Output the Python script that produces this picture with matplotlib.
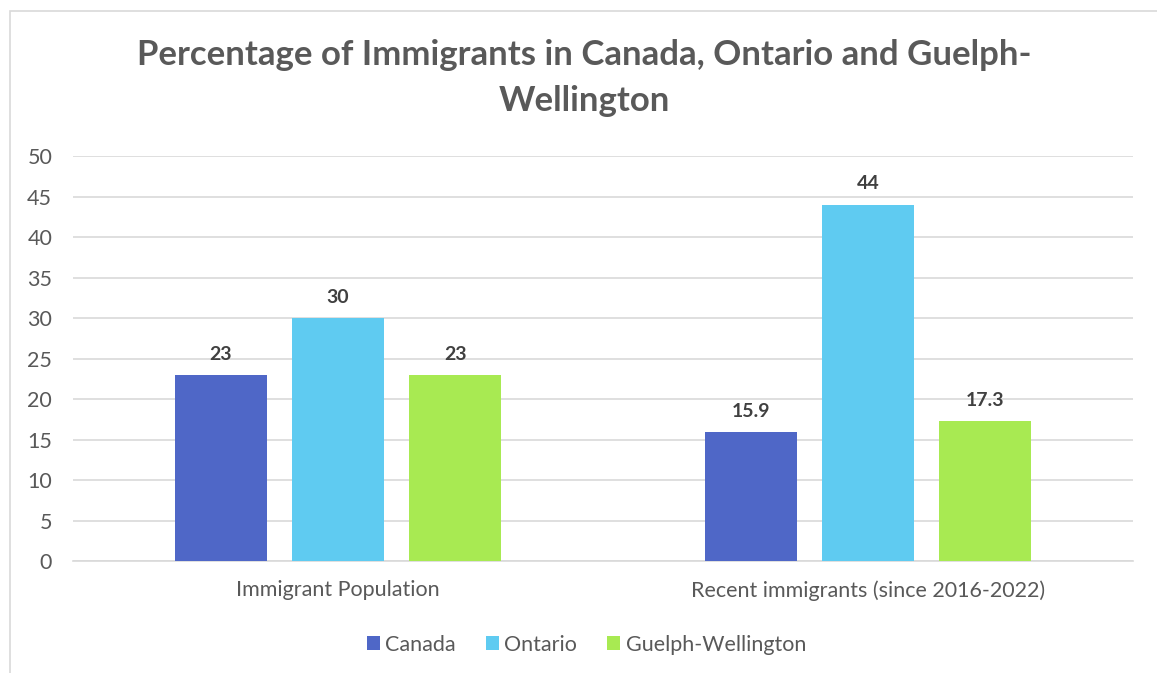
import matplotlib.pyplot as plt
import numpy as np
from matplotlib.patches import Rectangle

plt.rcParams['font.family'] = ['Lato', 'DejaVu Sans']

categories = ['Immigrant Population', 'Recent immigrants (since 2016-2022)']
series = ['Canada', 'Ontario', 'Guelph-Wellington']
canada = [23, 15.9]
ontario = [30, 44]
guelph = [23, 17.3]
colors = ['#4f67c7', '#5fcbf1', '#a8ea52']

fig = plt.figure(figsize=(11.57, 6.73), dpi=100)
ax = fig.add_axes([0.0631, 0.1664, 0.9159, 0.6018])

# outer chart frame
fig.patches.append(Rectangle((0.009, -0.01), 1.1, 0.994, transform=fig.transFigure,
                             fill=False, edgecolor='#d9d9d9', linewidth=1.2))

x = np.arange(len(categories))
width = 0.174
step = 0.221
for i, (vals, name, c) in enumerate(zip([canada, ontario, guelph], series, colors)):
    pos = x + (i - 1) * step
    bars = ax.bar(pos, vals, width=width, color=c, label=name, zorder=3)
    for b, v in zip(bars, vals):
        ax.text(b.get_x() + b.get_width() / 2, v + 1.5, f'{v:g}', ha='center', va='bottom',
                fontsize=14, fontweight='bold', color='#404040')

ax.set_xlim(-0.5, 1.5)
ax.set_ylim(0, 50)
ax.set_yticks(range(0, 51, 5))
ax.yaxis.grid(True, color='#d9d9d9', linewidth=1.2, zorder=0)
ax.set_axisbelow(True)
for s in ['top', 'right', 'left']:
    ax.spines[s].set_visible(False)
ax.spines['bottom'].set_color('#d9d9d9')
ax.spines['bottom'].set_linewidth(1.2)
ax.tick_params(axis='both', length=0, labelsize=15.5, labelcolor='#595959')
ax.tick_params(axis='y', pad=15)
ax.tick_params(axis='x', pad=14)
ax.set_xticks(x)
ax.set_xticklabels(categories)

fig.text(0.505, 0.918, 'Percentage of Immigrants in Canada, Ontario and Guelph-', ha='center', va='center',
         fontsize=25, fontweight='bold', color='#595959')
fig.text(0.505, 0.850, 'Wellington', ha='center', va='center',
         fontsize=25, fontweight='bold', color='#595959')

leg = fig.legend(loc='center', bbox_to_anchor=(0.507, 0.042), ncol=3, frameon=False,
                 fontsize=15.5, handlelength=0.6, handleheight=0.6, handletextpad=0.25,
                 columnspacing=1.4)
for t in leg.get_texts():
    t.set_color('#595959')

fig.savefig('out.png', dpi=100)
